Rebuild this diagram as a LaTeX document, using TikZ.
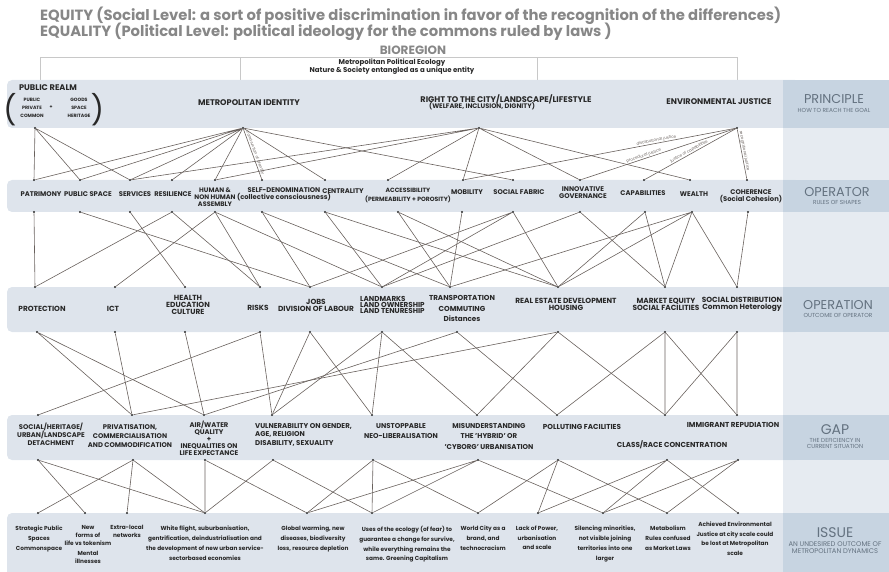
\documentclass[tikz,border=0pt]{standalone}
\usepackage{fontspec}
\setmainfont{Poppins}
\definecolor{titlegray}{RGB}{135,135,135}
\definecolor{bandblue}{RGB}{222,228,236}
\definecolor{sidelight}{RGB}{230,235,241}
\definecolor{sidedark}{RGB}{199,212,225}
\definecolor{sidegray}{RGB}{100,114,128}
\definecolor{inkgray}{RGB}{40,40,40}
\definecolor{linkgray}{RGB}{105,97,93}
\definecolor{framegray}{RGB}{200,200,200}
\usetikzlibrary{positioning}
\tikzset{
	band/.style={fill=bandblue, rounded corners=5pt},
	headline/.style={font=\fontsize{14.8}{16}\selectfont\bfseries, text=titlegray, inner sep=0pt, anchor=base west},
	prin/.style={font=\fontsize{8.2}{7.2}\selectfont\bfseries, text=inkgray, align=center, inner sep=0pt},
	oper/.style={font=\fontsize{6.8}{7}\selectfont\bfseries, text=inkgray, align=center, inner sep=0pt},
	opn/.style={font=\fontsize{7.4}{7.2}\selectfont\bfseries, text=inkgray, align=center, inner sep=0pt},
	gaptext/.style={font=\fontsize{7.2}{7.5}\selectfont\bfseries, text=inkgray, align=center, inner sep=0pt},
	tinytext/.style={font=\fontsize{4.7}{7.8}\selectfont\bfseries, text=inkgray, align=center, inner sep=0pt},
	issuetext/.style={font=\fontsize{5.8}{9.8}\selectfont\bfseries, text=inkgray, align=center, inner sep=0pt, anchor=north},
	sidetitle/.style={font=\fontsize{12.8}{13}\selectfont, text=sidegray, inner sep=0pt},
	sidesub/.style={font=\fontsize{5.8}{6}\selectfont, text=sidegray, align=center, inner sep=0pt},
	link/.style={draw=linkgray, line width=0.6pt},
	linklabel/.style={font=\fontsize{4}{4}\selectfont, text=linkgray, inner sep=0.5pt, sloped, above},
	dot/.style={circle, fill=inkgray, inner sep=0pt, minimum size=2.4pt},
	frameline/.style={draw=framegray, line width=0.5pt},
	paren/.style={font=\fontsize{29}{29}\selectfont, text=inkgray, inner sep=0pt},
}
\begin{document}
\begin{tikzpicture}[x=1pt, y=-1pt]
	\useasboundingbox (0,0) rectangle (889,572);
	% titles
	\node[headline] (equity) at (40,21) {EQUITY (Social Level: a sort of positive discrimination in favor of the recognition of the differences)};
	\node[headline] (equality) at (40,37) {EQUALITY (Political Level: political ideology for the commons ruled by laws )};
	\node[font=\fontsize{12}{12}\selectfont\bfseries, text=titlegray, inner sep=0pt] (bioregion) at (413,50) {BIOREGION};
	\node[font=\fontsize{7}{8}\selectfont\bfseries, text=inkgray, align=center, inner sep=0pt] (ecology) at (392,67) {Metropolitan Political Ecology\\Nature \& Society entangled as a unique entity};
	% frame under bioregion
	\coordinate (fa) at (40,57); \coordinate (fb) at (737,57);
	\coordinate (ta) at (40,80); \coordinate (tb) at (240,80); \coordinate (tc) at (537,80); \coordinate (td) at (737,80);
	\draw[frameline] (ta) -- (fa) -- (fb) -- (td);
	\draw[frameline] (tb) -- (tb |- fa) (tc) -- (tc |- fa);

	% bands
	\fill[sidelight] (783,80) rectangle (889,572);
	\foreach \t/\b in {80/128,180/212,287/332,415/460,513/580}{
		\fill[band] (7,\t) rectangle (800,\b);
		\fill[sidedark] (783,\t) rectangle (889,\b);
	}

	% side labels
	\node[sidetitle] (principle) at (834,99) {PRINCIPLE};
	\node[sidesub, below=4.5pt of principle] (goal) {HOW TO REACH THE GOAL};
	\node[sidetitle] (operator) at (837,192) {OPERATOR};
	\node[sidesub, below=3.5pt of operator] (shapes) {RULES OF SHAPES};
	\node[sidetitle] (operation) at (838,305) {OPERATION};
	\node[sidesub, below=3pt of operation] (outcome) {OUTCOME OF OPERATOR};
	\node[sidetitle, font=\fontsize{14}{14}\selectfont] (gap) at (835,430) {GAP};
	\node[sidesub, below=3pt of gap] (deficiency) {THE DEFICIENCY IN\\CURRENT SITUATION};
	\node[sidetitle, font=\fontsize{14}{14}\selectfont] (issue) at (835,533) {ISSUE};
	\node[sidesub, font=\fontsize{6.8}{7.2}\selectfont, below=3pt of issue] (undesired) {AN UNDESIRED OUTCOME OF\\METROPOLITAN DYNAMICS};

	% principle
	\node[prin] (realm) at (48,88) {PUBLIC REALM};
	\node[paren] (lpar) at (10,110) {(};
	\node[tinytext] (ppc) at (32,108) {PUBLIC\\PRIVATE\\COMMON};
	\node[tinytext] (plus) at (51,107) {+};
	\node[tinytext] (gsh) at (79,108) {GOODS\\SPACE\\HERITAGE};
	\node[paren] (rpar) at (97.5,110) {)};
	\node[prin] (identity) at (249,103) {METROPOLITAN IDENTITY};
	\node[prin] (rightcity) at (506,99.5) {RIGHT TO THE CITY/LANDSCAPE/LIFESTYLE};
	\node[prin, font=\fontsize{6.6}{7}\selectfont\bfseries] (welfare) at (482,105.8) {(WELFARE, INCLUSION, DIGNITY)};
	\node[prin] (envjustice) at (719,102) {ENVIRONMENTAL JUSTICE};

	% operator
	\node[oper] (patrimony) at (41,194) {PATRIMONY};
	\node[oper] (pubspace) at (88,194) {PUBLIC SPACE};
	\node[oper] (services) at (135,194) {SERVICES};
	\node[oper] (resilience) at (173,194) {RESILIENCE};
	\node[oper, font=\fontsize{6.5}{7}\selectfont\bfseries] (human) at (215,197) {HUMAN \&\\NON HUMAN\\ASSEMBLY};
	\node[oper] (selfden) at (284,194) {SELF-DENOMINATION\\(collective consciousness)};
	\node[oper] (centrality) at (343,191) {CENTRALITY};
	\node[oper, font=\fontsize{6.1}{8.5}\selectfont\bfseries] (access) at (408,195.5) {ACCESSIBILITY\\(PERMEABILITY + POROSITY)};
	\node[oper] (mobility) at (467,192) {MOBILITY};
	\node[oper] (fabric) at (519,192) {SOCIAL FABRIC};
	\node[oper] (innov) at (583,193) {INNOVATIVE\\GOVERNANCE};
	\node[oper] (capab) at (643,193) {CAPABILITIES};
	\node[oper] (wealth) at (694,194) {WEALTH};
	\node[oper] (coherence) at (751,196) {COHERENCE\\(Social Cohesion)};

	% operation
	\node[opn] (protection) at (42,309) {PROTECTION};
	\node[opn] (ict) at (113,309) {ICT};
	\node[opn] (health) at (188,305) {HEALTH\\EDUCATION\\CULTURE};
	\node[opn] (risks) at (258,308) {RISKS};
	\node[opn] (jobs) at (316,305) {JOBS\\DIVISION OF LABOUR};
	\node[opn, font=\fontsize{7.2}{5}\selectfont\bfseries, align=left, anchor=west] (landmarks) at (360,305) {LANDMARKS\\LAND OWNERSHIP\\LAND TENURESHIP};
	\node[opn, font=\fontsize{7.2}{10.5}\selectfont\bfseries] (transport) at (462,308.5) {TRANSPORTATION\\COMMUTING\\Distances};
	\node[opn] (realestate) at (566,304.5) {REAL ESTATE DEVELOPMENT\\HOUSING};
	\node[opn] (market) at (666,304.5) {MARKET EQUITY\\SOCIAL FACILITIES};
	\node[opn] (socdist) at (742,304.5) {SOCIAL DISTRIBUTION\\Common Heterology};

	% gap
	\node[gaptext, font=\fontsize{6.8}{8}\selectfont\bfseries] (detach) at (51,434) {SOCIAL/HERITAGE/\\URBAN/LANDSCAPE\\DETACHMENT};
	\node[gaptext, font=\fontsize{6.8}{9}\selectfont\bfseries] (privat) at (130,436) {PRIVATISATION,\\COMMERCIALISATION\\AND COMMODIFICATION};
	\node[gaptext, font=\fontsize{6.8}{7}\selectfont\bfseries] (airwater) at (209,438) {AIR/WATER\\QUALITY\\+\\INEQUALITIES ON\\LIFE EXPECTANCE};
	\node[gaptext, font=\fontsize{7}{8.5}\selectfont\bfseries, align=left, anchor=west] (vulner) at (255,434.5) {VULNERABILITY ON GENDER,\\AGE, RELIGION\\DISABILITY, SEXUALITY};
	\node[gaptext, font=\fontsize{7}{10}\selectfont\bfseries] (neolib) at (401,431) {UNSTOPPABLE\\NEO-LIBERALISATION};
	\node[gaptext, font=\fontsize{7}{10.5}\selectfont\bfseries] (hybrid) at (489,436.5) {MISUNDERSTANDING\\THE 'HYBRID' OR\\'CYBORG' URBANISATION};
	\node[gaptext] (polluting) at (582,427) {POLLUTING FACILITIES};
	\node[gaptext] (classrace) at (672,445) {CLASS/RACE CONCENTRATION};
	\node[gaptext] (immigrant) at (733,425) {IMMIGRANT REPUDIATION};

	% issue
	\node[issuetext] (strategic) at (39,526) {Strategic Public\\Spaces\\Commonspace};
	\node[issuetext, font=\fontsize{5.8}{8}\selectfont\bfseries] (newforms) at (88,525.5) {New\\forms of\\life vs tokenism\\[1.5pt]Mental\\illnesses};
	\node[issuetext, font=\fontsize{5.8}{8}\selectfont\bfseries] (extralocal) at (127,525.5) {Extra-local\\networks};
	\node[issuetext] (whiteflight) at (205,526) {White flight, suburbanisation,\\gentrification, deindustrialisation and\\the development of new urban service-\\sectorbased economies};
	\node[issuetext] (warming) at (313,526) {Global warming, new\\diseases, biodiversity\\loss, resource depletion};
	\node[issuetext] (ecofear) at (407,526) {Uses of the ecology (of fear) to\\guarantee a change for survive,\\while everything remains the\\same. Greening Capitalism};
	\node[issuetext] (worldcity) at (483,526) {World City as a\\brand, and\\technocracism};
	\node[issuetext] (lackpower) at (537,525.5) {Lack of Power,\\urbanisation\\and scale};
	\node[issuetext] (silencing) at (605,526) {Silencing minorities,\\not visible joining\\territories into one\\larger};
	\node[issuetext] (metabolism) at (668,526) {Metabolism\\Rules confused\\as Market Laws};
	\node[issuetext] (achieved) at (735,521.5) {Achieved Environmental\\Justice at city scale could\\be lost at Metropolitan\\scale};

	% dots
	\node[dot] (pr) at (35,128) {}; \node[dot] (mi) at (243,128) {}; \node[dot] (rtc) at (479,128) {}; \node[dot] (ej) at (737,128) {};
	\node[dot] (aPat) at (34,180) {}; \node[dot] (aPs) at (80,180) {}; \node[dot] (aSer) at (130,180) {}; \node[dot] (aRes) at (172,180) {};
	\node[dot] (aHum) at (215,180) {}; \node[dot] (aSelf) at (262,180) {}; \node[dot] (aCen) at (325,180) {}; \node[dot] (aAcc) at (388,180) {};
	\node[dot] (aMob) at (463,180) {}; \node[dot] (aSoc) at (513,180) {}; \node[dot] (aInn) at (580,180) {}; \node[dot] (aCap) at (644,180) {};
	\node[dot] (aWea) at (690,180) {}; \node[dot] (aCoh) at (747,180) {};
	\node[dot] (bPat) at (34,212) {}; \node[dot] (bPs) at (80,212) {}; \node[dot] (bSer) at (130,212) {}; \node[dot] (bRes) at (172,212) {};
	\node[dot] (bHum) at (215,212) {}; \node[dot] (bSelf) at (262,212) {}; \node[dot] (bCen) at (325,212) {}; \node[dot] (bAcc) at (398,212) {};
	\node[dot] (bMob) at (462,212) {}; \node[dot] (bSoc) at (513,212) {}; \node[dot] (bInn) at (580,212) {}; \node[dot] (bCap) at (645,212) {};
	\node[dot] (bWea) at (692,212) {}; \node[dot] (bCoh) at (748,212) {};
	\node[dot] (cPro) at (35,287) {}; \node[dot] (cIct) at (115,287) {}; \node[dot] (cHea) at (185,287) {}; \node[dot] (cRis) at (260,287) {};
	\node[dot] (cJob) at (310,287) {}; \node[dot] (cLan) at (382,287) {}; \node[dot] (cTra) at (450,287) {}; \node[dot] (cRea) at (558,287) {};
	\node[dot] (cMar) at (665,287) {}; \node[dot] (cSoc) at (737,287) {};
	\node[dot] (dPro) at (37,332) {}; \node[dot] (dIct) at (115,332) {}; \node[dot] (dHea) at (185,332) {}; \node[dot] (dRis) at (260,332) {};
	\node[dot] (dJob) at (310,332) {}; \node[dot] (dLan) at (382,332) {}; \node[dot] (dTra) at (457,332) {}; \node[dot] (dRea) at (558,332) {};
	\node[dot] (dMar) at (665,332) {}; \node[dot] (dSoc) at (737,332) {};
	\node[dot] (eShd) at (38,415) {}; \node[dot] (ePri) at (132,415) {}; \node[dot] (eAir) at (204,415) {}; \node[dot] (eVul) at (272,415) {};
	\node[dot] (eUns) at (372,415) {}; \node[dot] (eMis) at (477,415) {}; \node[dot] (ePol) at (557,415) {}; \node[dot] (eCla) at (665,415) {};
	\node[dot] (eImm) at (737,415) {};
	\node[dot] (fShd) at (38,460) {}; \node[dot] (fPri) at (133,460) {}; \node[dot] (fAir) at (205,460) {}; \node[dot] (fVul) at (273,460) {};
	\node[dot] (fUns) at (373,460) {}; \node[dot] (fMis) at (478,460) {}; \node[dot] (fPol) at (558,460) {}; \node[dot] (fCla) at (667,460) {};
	\node[dot] (fImm) at (738,460) {};
	\node[dot] (gStr) at (38,513) {}; \node[dot] (gNew) at (85,513) {}; \node[dot] (gExt) at (127,513) {}; \node[dot] (gWhi) at (205,513) {};
	\node[dot] (gGlo) at (307,513) {}; \node[dot] (gUse) at (372,513) {}; \node[dot] (gWor) at (478,513) {}; \node[dot] (gLac) at (538,513) {};
	\node[dot] (gSil) at (603,513) {}; \node[dot] (gMet) at (667,513) {}; \node[dot] (gAch) at (738,513) {};

	% principle -> operator
	\draw[link] (pr) -- (aPat) (pr) -- (aPs) (pr) -- (aSer);
	\draw[link] (mi) -- (aPat) (mi) -- (aPs) (mi) -- (aSer) (mi) -- (aRes) (mi) -- (aHum) (mi) -- (aCen) (mi) -- (aSoc);
	\draw[link] (mi) -- node[linklabel, pos=0.5] {construction of identity} (aSelf);
	\draw[link] (rtc) -- (aSer) (rtc) -- (aHum) (rtc) -- (aAcc) (rtc) -- (aMob) (rtc) -- (aInn) (rtc) -- (aWea);
	\draw[link] (aMob) -- node[linklabel, pos=0.71] {distributional justice} (ej);
	\draw[link] (aInn) -- node[linklabel, pos=0.41] {procedural justice} (ej);
	\draw[link] (aCap) -- node[linklabel, pos=0.5] {justice of capabilities} (ej);
	\draw[link] (ej) -- node[linklabel, pos=0.45] {recognitional justice} (aCoh);

	% operator -> operation
	\draw[link] (bPat) -- (cPro) (bPs) -- (cJob) (bSer) -- (cHea);
	\draw[link] (bRes) -- (cPro) (bRes) -- (cRis);
	\draw[link] (bHum) -- (cIct) (bHum) -- (cRis) (bHum) -- (cLan);
	\draw[link] (bSelf) -- (cJob) (bSelf) -- (cTra);
	\draw[link] (bCen) -- (cRea) (bCen) -- (cLan);
	\draw[link] (bAcc) -- (cTra) (bAcc) -- (cRea) (bMob) -- (cTra);
	\draw[link] (bSoc) -- (cJob) (bSoc) -- (cLan) (bSoc) -- (cRea);
	\draw[link] (bInn) -- (cLan) (bInn) -- (cMar);
	\draw[link] (bCap) -- (cRea) (bCap) -- (cMar);
	\draw[link] (bWea) -- (cTra) (bWea) -- (cRea) (bWea) -- (cMar) (bWea) -- (cSoc);
	\draw[link] (bCoh) -- (cSoc);

	% operation -> gap
	\draw[link] (dPro) -- (ePri) (dPro) -- (eAir) (dIct) -- (ePri) (dHea) -- (eAir);
	\draw[link] (dRis) -- (eShd) (dRis) -- (eVul);
	\draw[link] (dJob) -- (eVul) (dJob) -- (eUns);
	\draw[link] (dLan) -- (eVul) (dLan) -- (eUns) (dLan) -- (eMis);
	\draw[link] (dTra) -- (eAir) (dTra) -- (ePol);
	\draw[link] (dRea) -- (ePri) (dRea) -- (eMis) (dRea) -- (eCla);
	\draw[link] (dMar) -- (ePol) (dMar) -- (eCla) (dMar) -- (eImm);
	\draw[link] (dSoc) -- (eCla) (dSoc) -- (eImm);

	% gap -> issue
	\draw[link] (fShd) -- (gNew) (fShd) -- (gWhi);
	\draw[link] (fPri) -- (gStr) (fPri) -- (gExt) (fPri) -- (gWhi);
	\draw[link] (fAir) -- (gWhi) (fAir) -- (gGlo);
	\draw[link] (fVul) -- (gWhi) (fVul) -- (gUse);
	\draw[link] (fUns) -- (gGlo) (fUns) -- (gUse) (fUns) -- (gWor);
	\draw[link] (fMis) -- (gGlo) (fMis) -- (gUse) (fMis) -- (gSil);
	\draw[link] (fPol) -- (gWor) (fPol) -- (gLac) (fPol) -- (gMet);
	\draw[link] (fCla) -- (gLac) (fCla) -- (gSil) (fCla) -- (gAch);
	\draw[link] (fImm) -- (gSil) (fImm) -- (gMet);
\end{tikzpicture}
\end{document}
